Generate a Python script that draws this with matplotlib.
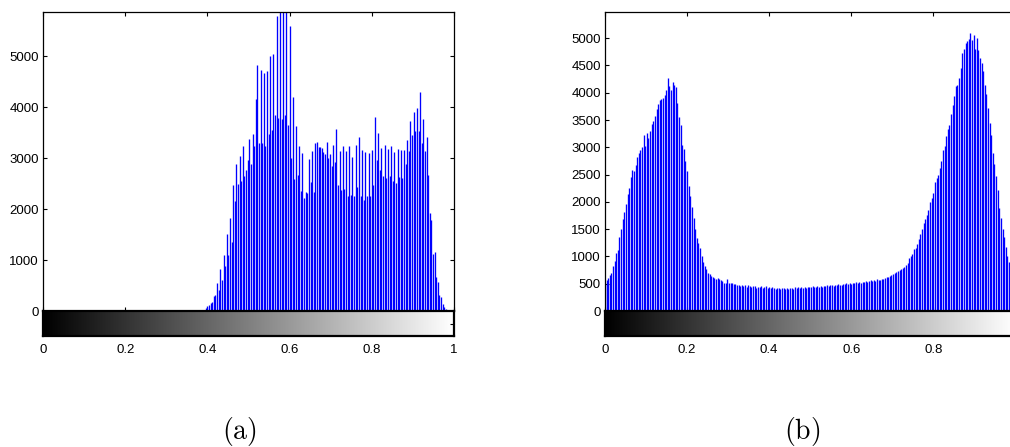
import matplotlib.pyplot as plt
import numpy as np

plt.rcParams['font.family'] = ['Liberation Sans', 'DejaVu Sans']
plt.rcParams['mathtext.fontset'] = 'cm'

# histogram counts per gray level (256 levels, imhist style)
# panel (a): levels below 100 and above 250 are empty
a_first_level = 100
a_counts = [
    20, 50, 100, 120, 160, 180, 300, 310, 555, 410,
    815, 610, 1100, 880, 1520, 1100, 1820, 1360, 2480, 2160,
    2880, 2490, 3050, 2550, 3240, 2650, 2760, 2960, 3370, 2880,
    3470, 3240, 4170, 4820, 3300, 4740, 3300, 4670, 3240, 4720,
    3480, 5000, 3550, 5040, 3850, 5800, 3790, 6200, 3760, 6500,
    3850, 6100, 3660, 5590, 3010, 4210, 2600, 3640, 2670, 3240,
    2350, 3100, 2210, 2340, 2320, 2990, 2540, 3140, 2330, 3300,
    3310, 3220, 3220, 3200, 3120, 3090, 3310, 3010, 3080, 2840,
    3260, 2930, 3570, 2470, 3140, 2370, 3240, 2400, 3150, 2260,
    3230, 2270, 3030, 2260, 3260, 2440, 3420, 2260, 3160, 2170,
    3120, 2260, 3110, 2260, 3160, 2470, 3800, 2960, 3500, 2760,
    3200, 2650, 3260, 2610, 3190, 2650, 3230, 2550, 3120, 2520,
    3190, 2630, 3160, 2610, 3160, 2880, 3350, 3140, 3730, 3450,
    3900, 3540, 3990, 3540, 4290, 3300, 3760, 3140, 3420, 2670,
    1930, 1780, 1110, 1150, 670, 560, 310, 270, 140, 85,
    40,
]

# panel (b): levels 0..251 (the rest is cut off)
b_counts = [
    500, 567, 610, 660, 700, 823, 915, 1067, 1116, 1354,
    1506, 1677, 1811, 1963, 2146, 2256, 2457, 2591, 2561, 2677,
    2823, 2896, 2945, 3000, 3232, 3020, 3262, 3170, 3290, 3430,
    3490, 3580, 3700, 3800, 3860, 3880, 3900, 3960, 4050, 4270,
    4120, 4050, 4190, 4150, 4100, 3810, 3560, 3400, 3050, 2970,
    2750, 2560, 2300, 2100, 1900, 1710, 1500, 1340, 1250, 1150,
    1000, 900, 820, 770, 700, 670, 640, 628, 610, 590,
    598, 590, 567, 550, 518, 518, 590, 518, 506, 518,
    488, 500, 480, 470, 455, 480, 462, 470, 445, 475,
    460, 440, 458, 450, 430, 448, 442, 455, 430, 445,
    452, 428, 440, 418, 436, 430, 412, 428, 420, 405,
    425, 418, 410, 422, 400, 415, 428, 410, 432, 420,
    440, 425, 438, 430, 445, 428, 440, 448, 432, 450,
    440, 435, 452, 440, 458, 445, 462, 450, 470, 455,
    468, 478, 460, 482, 470, 490, 478, 485, 500, 488,
    505, 495, 512, 500, 520, 508, 525, 515, 532, 520,
    540, 528, 545, 535, 552, 560, 548, 565, 549, 579,
    567, 567, 579, 591, 610, 622, 622, 640, 659, 683,
    701, 713, 732, 750, 774, 793, 805, 835, 884, 976,
    1006, 1049, 1128, 1146, 1220, 1311, 1415, 1494, 1616, 1677,
    1768, 1860, 1994, 2073, 2165, 2360, 2439, 2500, 2622, 2744,
    2957, 3030, 3201, 3335, 3415, 3616, 3780, 3945, 4128, 4146,
    4268, 4451, 4725, 4799, 4909, 4957, 4990, 5104, 4970, 5061,
    4799, 5000, 4787, 4634, 4543, 4390, 4146, 3976, 3720, 3445,
    3232, 2896, 2695, 2482, 2226, 1890, 1707, 1494, 1360, 1180,
    1006, 900,
]

a_yticks = [0, 1000, 2000, 3000, 4000, 5000]
b_yticks = [0, 500, 1000, 1500, 2000, 2500, 3000, 3500, 4000, 4500, 5000]
xticks = [0, 0.2, 0.4, 0.6, 0.8, 1]
xticklabels = ['0', '0.2', '0.4', '0.6', '0.8', '1']

W, H = 1010, 447
fig = plt.figure(figsize=(W / 100, H / 100), dpi=100)


def px_axes(x0, y0, x1, y1):
    return fig.add_axes([x0 / W, 1 - y1 / H, (x1 - x0) / W, (y1 - y0) / H])


def draw_panel(x0, x1, counts, first, xmax, ymax, yticks, caption, cap_x, cut):
    ax = px_axes(x0, 12, x1, 311)
    cb = px_axes(x0, 311, x1, 336)

    full = np.zeros(256)
    full[first:first + len(counts)] = counts
    levels = np.arange(256) / 255
    ax.vlines(levels, 0, full, color='blue', lw=0.95)

    ticks = [t for t in xticks if t <= xmax + 1e-9]
    labels = xticklabels[:len(ticks)]

    ax.set_xticks(ticks)
    ax.set_yticks(yticks)
    ax.set_yticklabels([str(t) for t in yticks])
    ax.set_xlim(0, xmax)
    ax.set_ylim(0, ymax)
    ax.tick_params(direction='in', top=True, right=not cut, length=3,
                   width=0.8, labelbottom=False, labelsize=9.5, pad=3)
    for s in ax.spines.values():
        s.set_linewidth(0.9)
    ax.spines['bottom'].set_visible(False)
    if cut:
        ax.spines['right'].set_visible(False)

    grad = np.linspace(0, 1, 256)[None, :]
    cb.imshow(grad, cmap='gray', aspect='auto', extent=[0, 1, 0, 1],
              interpolation='bilinear')
    cb.set_xticks(ticks)
    cb.set_xticklabels(labels)
    cb.set_yticks([0.5])
    cb.set_xlim(0, xmax)
    cb.set_ylim(0, 1)
    cb.tick_params(axis='x', length=0, labelsize=9.5, pad=6)
    cb.tick_params(axis='y', direction='in', left=False, right=not cut,
                   labelleft=False, length=3, width=0.8)
    for s in cb.spines.values():
        s.set_linewidth(1.6)
    if cut:
        cb.spines['right'].set_visible(False)

    fig.text(cap_x / W, 1 - 432 / H, r'$\mathrm{' + caption + '}$',
             ha='center', va='center', fontsize=20)


draw_panel(43, 454, a_counts, a_first_level, 1, 5870, a_yticks, '(a)', 239, False)
draw_panel(605, 1010, b_counts, 0, 405 / 410.4, 5480, b_yticks, '(b)', 802, True)

fig.savefig('out.png', dpi=100)
